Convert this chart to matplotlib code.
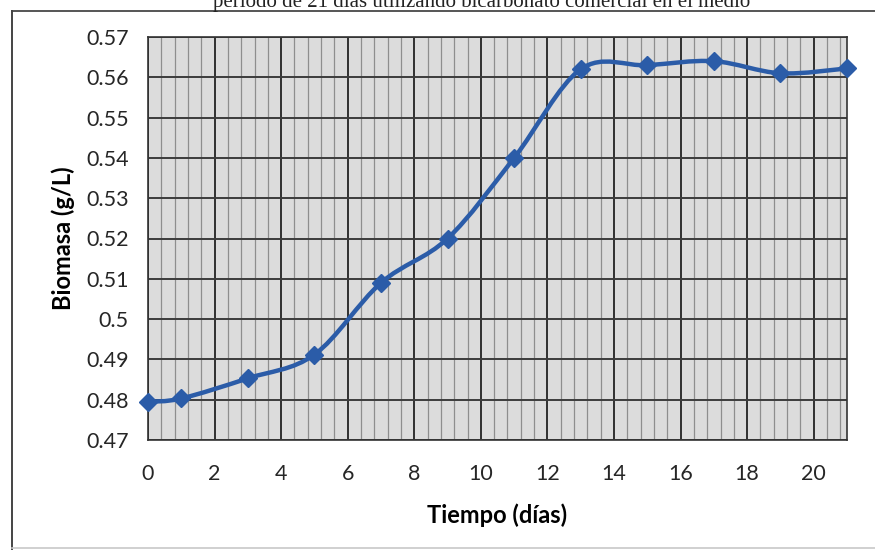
import matplotlib
matplotlib.use("Agg")
import matplotlib.pyplot as plt
from matplotlib.path import Path
from matplotlib.patches import PathPatch
from matplotlib.lines import Line2D
import numpy as np

# data
dias = [0, 1, 3, 5, 7, 9, 11, 13, 15, 17, 19, 21]
biomasa = [0.4795, 0.4803, 0.4853, 0.4912, 0.509, 0.520, 0.540,
           0.562, 0.563, 0.564, 0.561, 0.5622]
x_ticks = list(range(0, 21, 2))
y_ticks = [0.47, 0.48, 0.49, 0.50, 0.51, 0.52, 0.53, 0.54, 0.55, 0.56, 0.57]
y_labels = ["0.47", "0.48", "0.49", "0.5", "0.51", "0.52", "0.53",
            "0.54", "0.55", "0.56", "0.57"]
caption = "período de 21 días utilizando bicarbonato comercial en el medio"

BLUE = "#2b5ca8"
W, H = 875, 553


def smooth_path(x, y):
    """Excel-like smoothed line as cubic bezier segments through the points."""
    pts = np.column_stack([x, y]).astype(float)
    n = len(pts)
    verts = [pts[0]]
    codes = [Path.MOVETO]
    for i in range(n - 1):
        p0 = pts[max(i - 1, 0)]
        p1 = pts[i]
        p2 = pts[i + 1]
        p3 = pts[min(i + 2, n - 1)]
        c1 = p1 + (p2 - p0) / 6.0
        c2 = p2 - (p3 - p1) / 6.0
        verts += [c1, c2, p2]
        codes += [Path.CURVE4] * 3
    return Path(verts, codes)


def fx(px):
    return px / W


def fy(py):
    return 1 - py / H


plt.rcParams["font.family"] = ["Lato", "DejaVu Sans"]

fig = plt.figure(figsize=(W / 100, H / 100), dpi=100)
fig.patch.set_facecolor("white")

# frame of the embedded chart (scan shows top, left and a faint bottom edge)
fig.add_artist(Line2D([fx(12), 1], [fy(11), fy(11)], color="#555555", lw=1.4))
fig.add_artist(Line2D([fx(12), fx(12)], [fy(11), fy(549)], color="#444444", lw=1.4))
fig.add_artist(Line2D([fx(12), 1], [fy(548), fy(548)], color="#c8c8c8", lw=1.2))
# caption of the page, cut by the top of the scan as in the original
fig.text(0.55, fy(2), caption, ha="center", va="center",
         fontsize=15, family="Liberation Serif", color="#222222")

ax = fig.add_axes([fx(148), fy(440), (847 - 148) / W, (440 - 37) / H])
ax.set_facecolor("#dcdcdc")

ax.set_xlim(0, 21)
ax.set_ylim(0.47, 0.57)
ax.set_xticks(x_ticks)
ax.set_xticks(np.arange(0, 21.01, 0.4), minor=True)
ax.set_yticks(y_ticks)
ax.set_yticklabels(y_labels)

ax.grid(which="minor", axis="x", color="#8e8e8e", linewidth=0.9)
ax.grid(which="major", axis="x", color="#222222", linewidth=1.3)
ax.grid(which="major", axis="y", color="#3c3c3c", linewidth=1.4)
ax.set_axisbelow(True)

ax.tick_params(which="both", length=0, labelsize=15.5, colors="#262626")
ax.tick_params(axis="x", pad=17)
ax.tick_params(axis="y", pad=14)
for s in ax.spines.values():
    s.set_color("#333333")
    s.set_linewidth(1.2)

# smoothed line plus diamond markers
ax.add_patch(PathPatch(smooth_path(dias, biomasa), fill=False,
                       edgecolor=BLUE, linewidth=3.2, zorder=3,
                       clip_on=False))
ax.plot(dias, biomasa, linestyle="none", marker="D", markersize=9,
        color=BLUE, zorder=4, clip_on=False)

ax.set_xlabel("Tiempo (días)", fontsize=17, fontweight="bold", labelpad=14)
ax.set_ylabel("Biomasa (g/L)", fontsize=17, fontweight="bold", labelpad=8)

fig.savefig("out.png", dpi=100)
